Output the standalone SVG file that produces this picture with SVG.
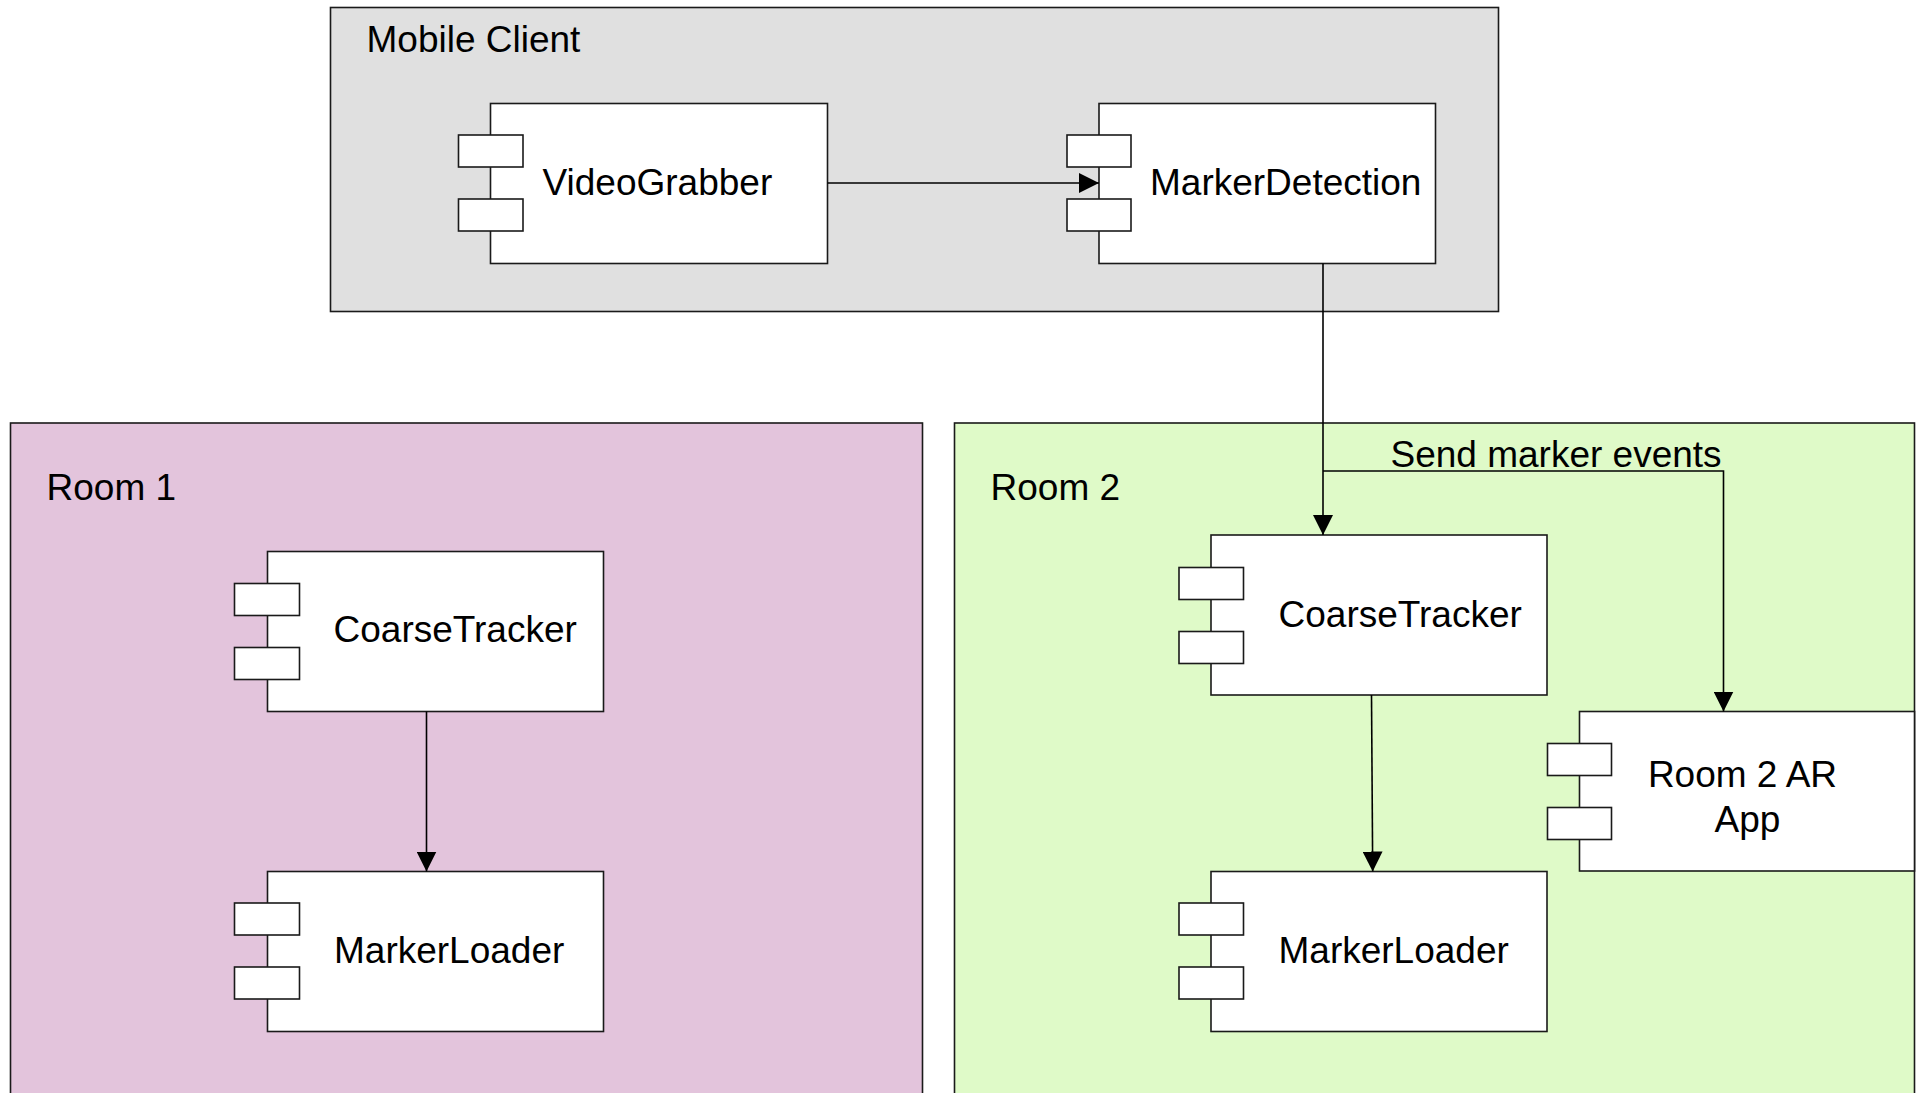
<svg xmlns="http://www.w3.org/2000/svg" width="1918" height="1093" viewBox="0 0 1918 1093">
<style>
.frame{stroke:#1a1a1a;stroke-width:1.6}
.box{fill:#ffffff;stroke:#1a1a1a;stroke-width:1.6}
.lbl{font-family:"Liberation Sans",Arial,Helvetica,sans-serif;font-size:37px;fill:#000000}
.conn{fill:none;stroke:#000000;stroke-width:1.6}
</style>
<defs>
<marker id="arr" viewBox="0 0 20 20" refX="20" refY="10" markerWidth="20" markerHeight="20" markerUnits="userSpaceOnUse" orient="auto">
<path d="M0,0 L20,10 L0,20 Z" fill="#000000"/>
</marker>
</defs>
<rect width="1918" height="1093" fill="#ffffff"/>

<g id="mobile-client">
<rect class="frame" x="330.5" y="7.5" width="1168" height="304" fill="#e0e0e0"/>
<text class="lbl" x="366.5" y="52">Mobile Client</text>
</g>

<g id="room1">
<rect class="frame" x="10.5" y="423" width="912" height="700" fill="#e3c4dc"/>
<text class="lbl" x="46.5" y="500">Room 1</text>
</g>

<g id="room2">
<rect class="frame" x="954.5" y="423" width="960" height="700" fill="#dffac8"/>
<text class="lbl" x="990.5" y="500">Room 2</text>
</g>

<g id="videograbber">
<rect class="box" x="490.5" y="103.5" width="337" height="160"/>
<rect class="box" x="458.5" y="135" width="64.5" height="32"/>
<rect class="box" x="458.5" y="199" width="64.5" height="32"/>
<text class="lbl" x="542.5" y="195">VideoGrabber</text>
</g>

<g id="markerdetection">
<rect class="box" x="1099" y="103.5" width="336.5" height="160"/>
<rect class="box" x="1067" y="135" width="64" height="32"/>
<rect class="box" x="1067" y="199" width="64" height="32"/>
<text class="lbl" x="1150" y="195">MarkerDetection</text>
</g>

<g id="coarsetracker1">
<rect class="box" x="267.5" y="551.5" width="336" height="160"/>
<rect class="box" x="234.5" y="583.5" width="65" height="32"/>
<rect class="box" x="234.5" y="647.5" width="65" height="32"/>
<text class="lbl" x="333.5" y="642">CoarseTracker</text>
</g>

<g id="markerloader1">
<rect class="box" x="267.5" y="871.5" width="336" height="160"/>
<rect class="box" x="234.5" y="903" width="65" height="32"/>
<rect class="box" x="234.5" y="967" width="65" height="32"/>
<text class="lbl" x="334" y="963">MarkerLoader</text>
</g>

<g id="coarsetracker2">
<rect class="box" x="1211" y="535" width="336" height="160"/>
<rect class="box" x="1179" y="567.5" width="64.5" height="32"/>
<rect class="box" x="1179" y="631.5" width="64.5" height="32"/>
<text class="lbl" x="1278.5" y="627">CoarseTracker</text>
</g>

<g id="markerloader2">
<rect class="box" x="1211" y="871.5" width="336" height="160"/>
<rect class="box" x="1179" y="903" width="64.5" height="32"/>
<rect class="box" x="1179" y="967" width="64.5" height="32"/>
<text class="lbl" x="1278.5" y="963">MarkerLoader</text>
</g>

<g id="room2-ar-app">
<rect class="box" x="1579.5" y="711.5" width="335" height="159.5"/>
<rect class="box" x="1547.5" y="743.5" width="64" height="32"/>
<rect class="box" x="1547.5" y="807.5" width="64" height="32"/>
<text class="lbl" x="1742.5" y="787" text-anchor="middle">Room 2 AR</text>
<text class="lbl" x="1747.5" y="832" text-anchor="middle">App</text>
</g>

<g id="connectors">
<line class="conn" x1="827.5" y1="183" x2="1099" y2="183" marker-end="url(#arr)"/>
<line class="conn" x1="1323" y1="263.5" x2="1323" y2="535" marker-end="url(#arr)"/>
<path class="conn" d="M1323,471 L1723.5,471 L1723.5,711.5" marker-end="url(#arr)"/>
<text class="lbl" x="1390.5" y="467">Send marker events</text>
<line class="conn" x1="1371.5" y1="695" x2="1372.7" y2="871.5" marker-end="url(#arr)"/>
<line class="conn" x1="426.5" y1="711.5" x2="426.5" y2="871.5" marker-end="url(#arr)"/>
</g>
</svg>
